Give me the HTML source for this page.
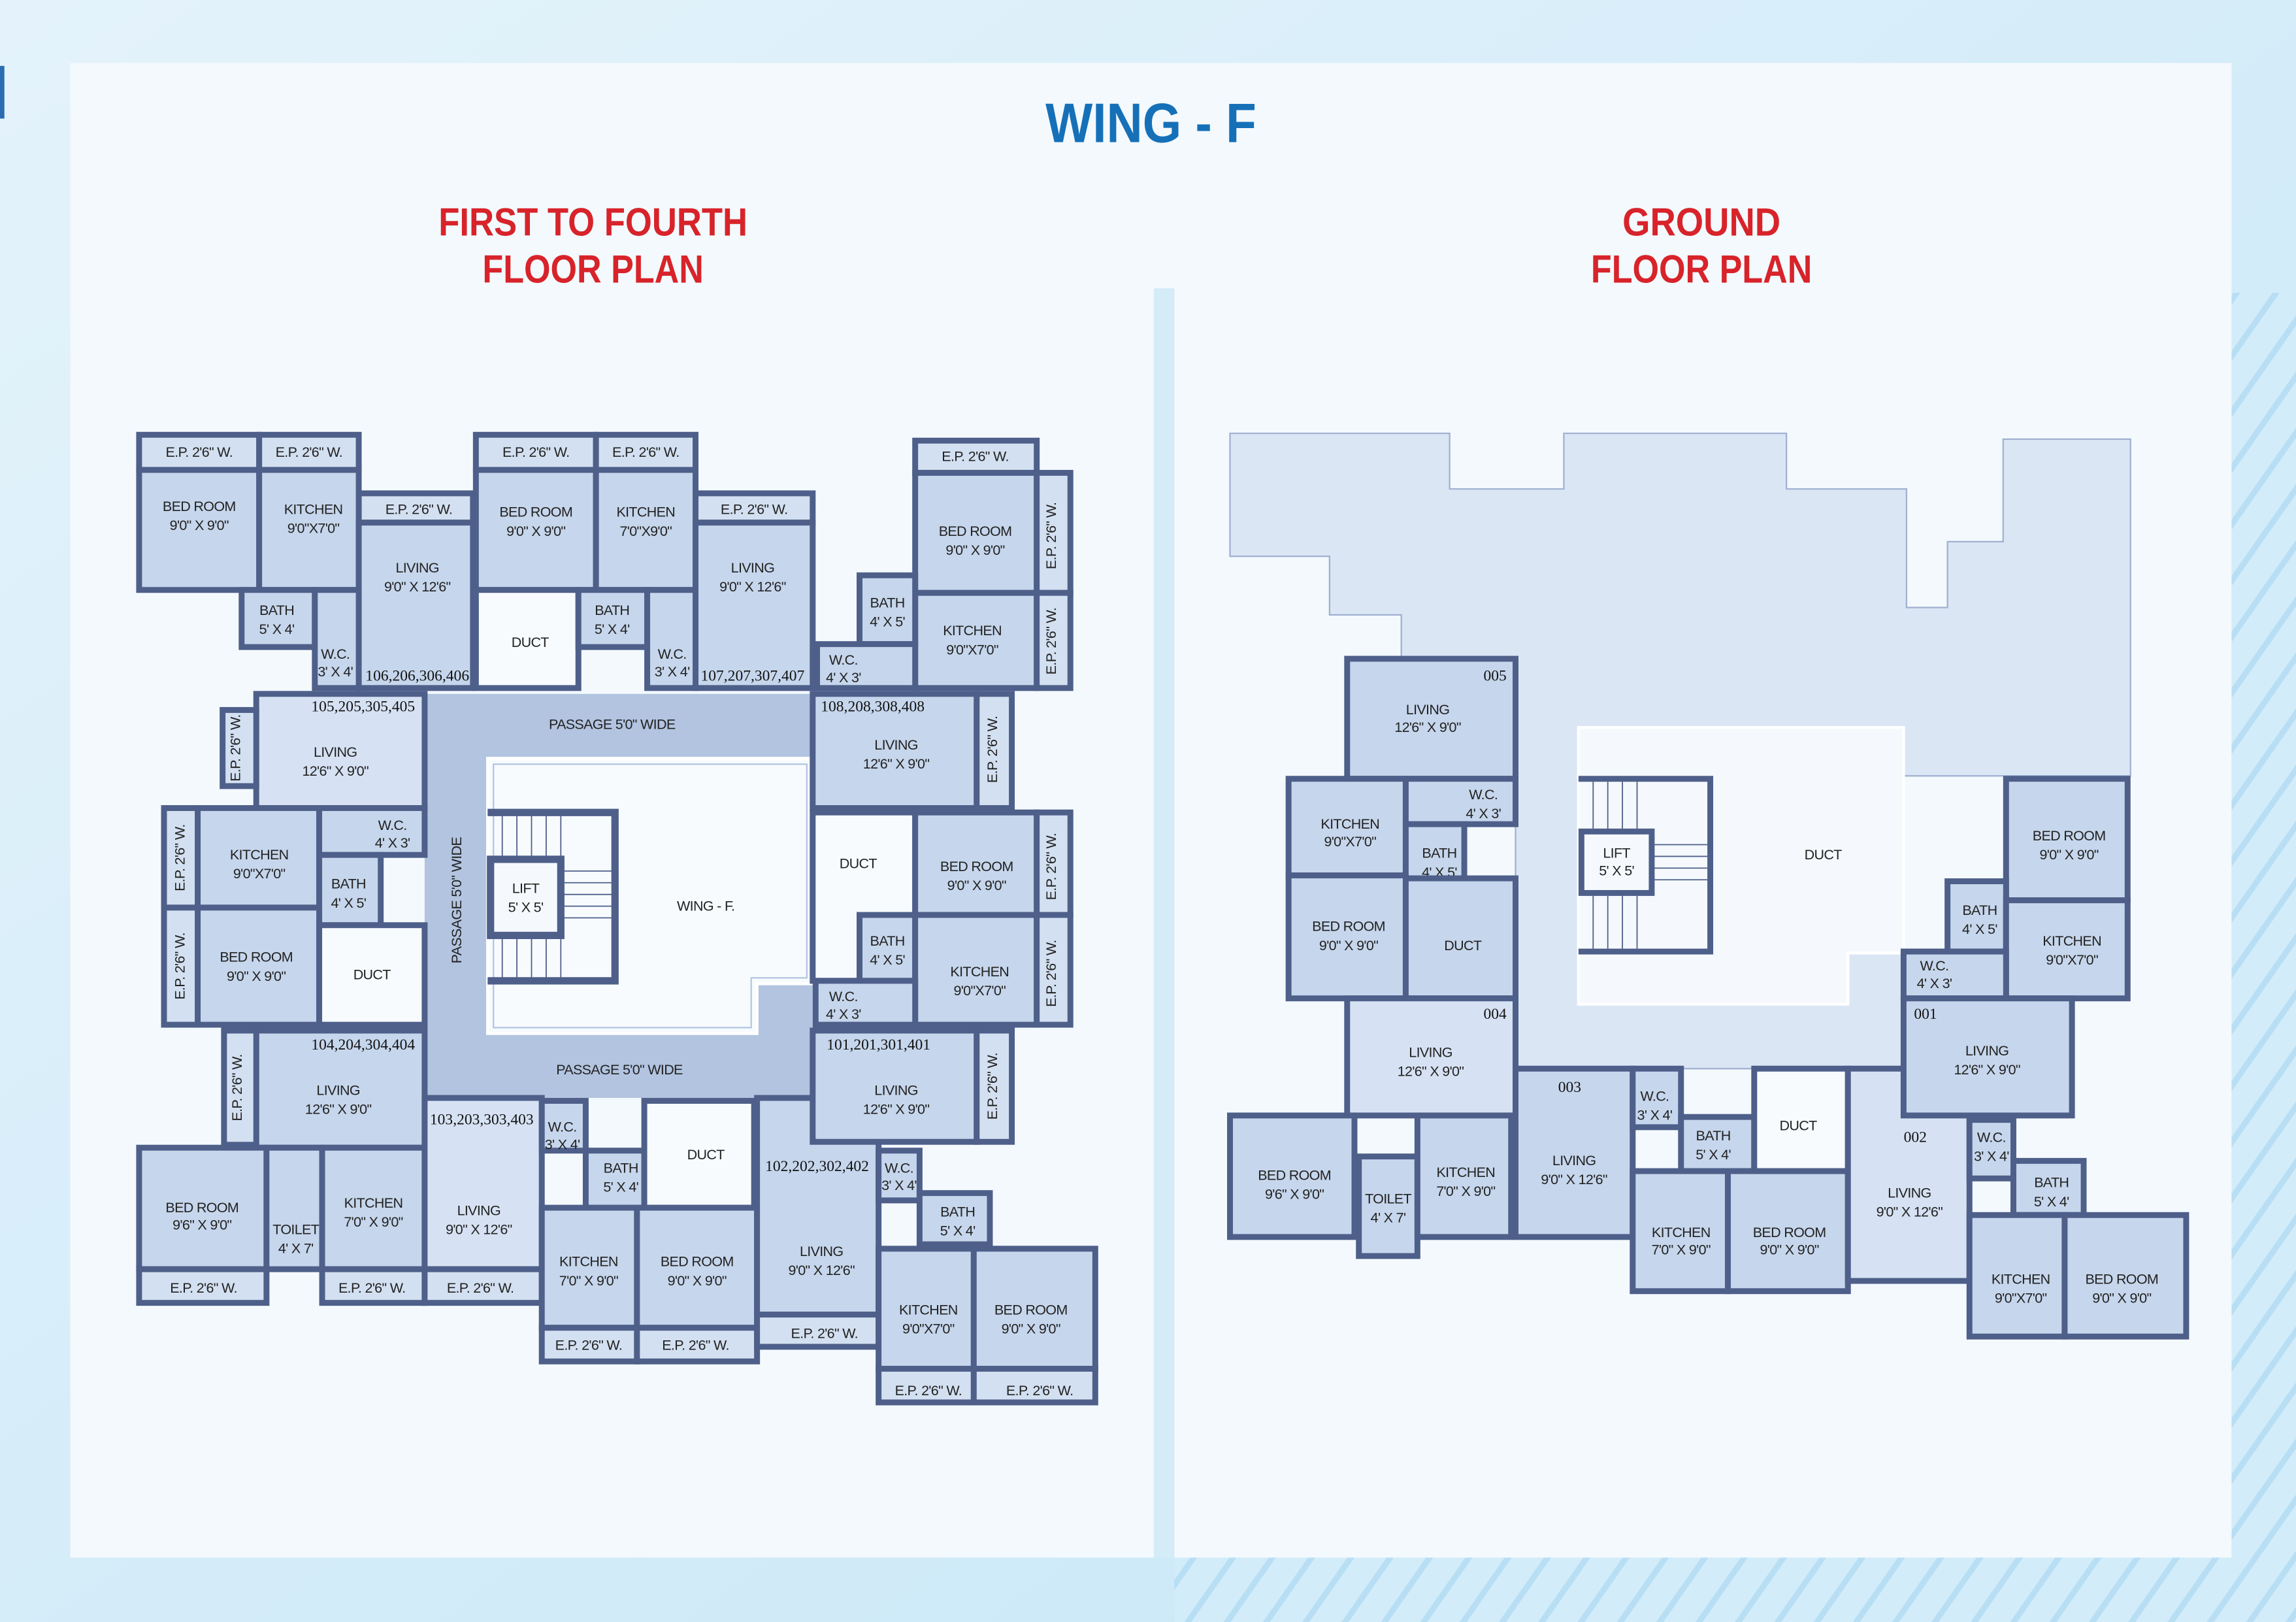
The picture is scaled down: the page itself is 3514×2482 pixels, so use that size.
<!DOCTYPE html>
<html><head><meta charset="utf-8"><style>
html,body{margin:0;padding:0;width:3514px;height:2482px;overflow:hidden;background:#d7ecf8}
svg{display:block}
.r{fill:#c6d6ec;stroke:#4e5f8a;stroke-width:4}
.e{fill:#d3e0f1;stroke:#4e5f8a;stroke-width:4}
.l{fill:#d6e2f3;stroke:#4e5f8a;stroke-width:4}
.w{fill:#f7fbfe;stroke:#4e5f8a;stroke-width:4}
text{font-family:"Liberation Sans Narrow","Liberation Sans",sans-serif;font-size:9.6px;letter-spacing:-0.3px;fill:#222;text-anchor:middle}
.n{font-family:"Liberation Serif",serif;font-size:10.5px;letter-spacing:0;fill:#111}
.h{font-family:"Liberation Sans",sans-serif;font-weight:bold;text-anchor:middle;letter-spacing:0}
</style></head><body>
<svg width="3514" height="2482" viewBox="0 0 1568 1108" preserveAspectRatio="none" xmlns="http://www.w3.org/2000/svg">
<defs>
<linearGradient id="bg" x1="0" y1="0" x2="1" y2="1"><stop offset="0" stop-color="#e4f3fb"/><stop offset="1" stop-color="#c6e6f7"/></linearGradient>
<pattern id="st" width="22" height="22" patternUnits="userSpaceOnUse" patternTransform="rotate(35)"><rect width="22" height="22" fill="#d2ecf9"/><rect width="4" height="22" fill="#b8def4"/></pattern>
</defs>
<rect width="1568" height="1108" fill="url(#bg)"/>
<rect x="1500" y="200" width="68" height="908" fill="url(#st)"/>
<rect x="802" y="1064" width="766" height="44" fill="url(#st)"/>
<rect x="0" y="45" width="3" height="36" fill="#2a6db0"/>
<rect x="48" y="43" width="1476" height="1021" fill="#f3f9fd"/>
<rect x="788" y="197" width="14" height="867" fill="#d4ebf8"/>
<text class="h" x="786" y="97" textLength="144" lengthAdjust="spacingAndGlyphs" style="font-size:38px;fill:#1570b8">WING - F</text>
<text class="h" x="405" y="161" textLength="211" lengthAdjust="spacingAndGlyphs" style="font-size:27px;fill:#d8232a">FIRST TO FOURTH</text>
<text class="h" x="405" y="193" textLength="151" lengthAdjust="spacingAndGlyphs" style="font-size:27px;fill:#d8232a">FLOOR PLAN</text>
<text class="h" x="1162" y="161" textLength="108" lengthAdjust="spacingAndGlyphs" style="font-size:27px;fill:#d8232a">GROUND</text>
<text class="h" x="1162" y="193" textLength="151" lengthAdjust="spacingAndGlyphs" style="font-size:27px;fill:#d8232a">FLOOR PLAN</text>

<!-- LEFT PLAN -->
<rect x="290" y="474" width="265" height="276" fill="#b2c4e0"/>
<polygon points="333,518 555,518 555,672 517,672 517,706 333,706" fill="#f7fbfe" stroke="#ffffff" stroke-width="2"/>
<polygon points="337,522 551,522 551,668 513,668 513,702 337,702" fill="none" stroke="#b2c4e0" stroke-width="1"/>
<text x="418" y="498">PASSAGE 5'0" WIDE</text>
<text x="423" y="734">PASSAGE 5'0" WIDE</text>
<text x="315" y="615" transform="rotate(-90 315 615)">PASSAGE 5'0" WIDE</text>
<text x="482" y="622">WING - F.</text>
<g stroke="#4e5f8a" fill="none">
<polyline points="333,555 420,555 420,670 333,670" stroke-width="5"/>
<rect x="335" y="587" width="48" height="52" stroke-width="5" fill="#f5f9fd"/>
<g stroke-width="0.8"><line x1="343" y1="556" x2="343" y2="586"/><line x1="353" y1="556" x2="353" y2="586"/><line x1="363" y1="556" x2="363" y2="586"/><line x1="373" y1="556" x2="373" y2="586"/><line x1="383" y1="556" x2="383" y2="586"/>
<line x1="343" y1="640" x2="343" y2="668"/><line x1="353" y1="640" x2="353" y2="668"/><line x1="363" y1="640" x2="363" y2="668"/><line x1="373" y1="640" x2="373" y2="668"/><line x1="383" y1="640" x2="383" y2="668"/>
<line x1="384" y1="595" x2="418" y2="595"/><line x1="384" y1="603" x2="418" y2="603"/><line x1="384" y1="611" x2="418" y2="611"/><line x1="384" y1="619" x2="418" y2="619"/><line x1="384" y1="627" x2="418" y2="627"/></g>
</g>
<text x="359" y="610">LIFT</text><text x="359" y="623">5' X 5'</text>

<!-- unit 106 -->
<rect class="e" x="95" y="297" width="82" height="24"/><text x="136" y="312">E.P. 2'6" W.</text>
<rect class="e" x="177" y="297" width="68" height="24"/><text x="211" y="312">E.P. 2'6" W.</text>
<rect class="e" x="245" y="337" width="78" height="20"/><text x="286" y="351">E.P. 2'6" W.</text>
<rect class="r" x="95" y="321" width="82" height="82"/><text x="136" y="349">BED ROOM</text><text x="136" y="362">9'0" X 9'0"</text>
<rect class="r" x="177" y="321" width="68" height="82"/><text x="214" y="351">KITCHEN</text><text x="214" y="364">9'0"X7'0"</text>
<rect class="r" x="245" y="357" width="78" height="113"/><text x="285" y="391">LIVING</text><text x="285" y="404">9'0" X 12'6"</text>
<rect class="r" x="165" y="403" width="50" height="39"/><text x="189" y="420">BATH</text><text x="189" y="433">5' X 4'</text>
<rect class="r" x="215" y="403" width="30" height="67"/><text x="229" y="450">W.C.</text><text x="229" y="462">3' X 4'</text>
<text class="n" x="285" y="465">106,206,306,406</text>
<!-- unit 107 -->
<rect class="e" x="325" y="297" width="82" height="24"/><text x="366" y="312">E.P. 2'6" W.</text>
<rect class="e" x="407" y="297" width="68" height="24"/><text x="441" y="312">E.P. 2'6" W.</text>
<rect class="e" x="475" y="337" width="80" height="20"/><text x="515" y="351">E.P. 2'6" W.</text>
<rect class="r" x="325" y="321" width="82" height="82"/><text x="366" y="353">BED ROOM</text><text x="366" y="366">9'0" X 9'0"</text>
<rect class="r" x="407" y="321" width="68" height="82"/><text x="441" y="353">KITCHEN</text><text x="441" y="366">7'0"X9'0"</text>
<rect class="r" x="475" y="357" width="80" height="113"/><text x="514" y="391">LIVING</text><text x="514" y="404">9'0" X 12'6"</text>
<rect class="w" x="325" y="403" width="70" height="67"/><text x="362" y="442">DUCT</text>
<rect class="r" x="395" y="403" width="47" height="39"/><text x="418" y="420">BATH</text><text x="418" y="433">5' X 4'</text>
<rect class="r" x="442" y="403" width="33" height="67"/><text x="459" y="450">W.C.</text><text x="459" y="462">3' X 4'</text>
<text class="n" x="514" y="465">107,207,307,407</text>
<!-- unit 108 -->
<rect class="e" x="625" y="301" width="83" height="22"/><text x="666" y="315">E.P. 2'6" W.</text>
<rect class="r" x="625" y="323" width="83" height="82"/><text x="666" y="366">BED ROOM</text><text x="666" y="379">9'0" X 9'0"</text>
<rect class="e" x="708" y="323" width="23" height="82"/><text x="721" y="366" transform="rotate(-90 721 366)">E.P. 2'6" W.</text>
<rect class="r" x="625" y="405" width="83" height="65"/><text x="664" y="434">KITCHEN</text><text x="664" y="447">9'0"X7'0"</text>
<rect class="e" x="708" y="405" width="23" height="65"/><text x="721" y="438" transform="rotate(-90 721 438)">E.P. 2'6" W.</text>
<rect class="r" x="587" y="393" width="38" height="47"/><text x="606" y="415">BATH</text><text x="606" y="428">4' X 5'</text>
<rect class="r" x="558" y="440" width="67" height="30"/><text x="576" y="454">W.C.</text><text x="576" y="466">4' X 3'</text>
<rect class="r" x="555" y="474" width="112" height="78"/><text x="612" y="512">LIVING</text><text x="612" y="525">12'6" X 9'0"</text>
<rect class="e" x="667" y="474" width="24" height="78"/><text x="681" y="512" transform="rotate(-90 681 512)">E.P. 2'6" W.</text>
<text class="n" x="596" y="486">108,208,308,408</text>
<!-- unit 105 -->
<rect class="l" x="175" y="474" width="115" height="78"/><text x="229" y="517">LIVING</text><text x="229" y="530">12'6" X 9'0"</text>
<rect class="e" x="152" y="485" width="23" height="52"/><text x="164" y="511" transform="rotate(-90 164 511)">E.P. 2'6" W.</text>
<text class="n" x="248" y="486">105,205,305,405</text>
<rect class="r" x="135" y="552" width="83" height="68"/><text x="177" y="587">KITCHEN</text><text x="177" y="600">9'0"X7'0"</text>
<rect class="e" x="112" y="552" width="23" height="68"/><text x="126" y="586" transform="rotate(-90 126 586)">E.P. 2'6" W.</text>
<rect class="r" x="218" y="552" width="72" height="32"/><text x="268" y="567">W.C.</text><text x="268" y="579">4' X 3'</text>
<rect class="r" x="218" y="584" width="42" height="48"/><text x="238" y="607">BATH</text><text x="238" y="620">4' X 5'</text>
<rect class="r" x="135" y="620" width="83" height="80"/><text x="175" y="657">BED ROOM</text><text x="175" y="670">9'0" X 9'0"</text>
<rect class="e" x="112" y="620" width="23" height="80"/><text x="126" y="660" transform="rotate(-90 126 660)">E.P. 2'6" W.</text>
<rect class="w" x="218" y="632" width="72" height="68"/><text x="254" y="669">DUCT</text>
<!-- unit 104 -->
<rect class="r" x="175" y="704" width="115" height="80"/><text x="231" y="748">LIVING</text><text x="231" y="761">12'6" X 9'0"</text>
<rect class="e" x="153" y="704" width="22" height="78"/><text x="165" y="743" transform="rotate(-90 165 743)">E.P. 2'6" W.</text>
<text class="n" x="248" y="717">104,204,304,404</text>
<rect class="r" x="95" y="784" width="87" height="83"/><text x="138" y="828">BED ROOM</text><text x="138" y="840">9'6" X 9'0"</text>
<rect class="r" x="182" y="784" width="38" height="83"/><text x="202" y="843">TOILET</text><text x="202" y="856">4' X 7'</text>
<rect class="r" x="220" y="784" width="70" height="83"/><text x="255" y="825">KITCHEN</text><text x="255" y="838">7'0" X 9'0"</text>
<rect class="e" x="95" y="867" width="87" height="23"/><text x="139" y="883">E.P. 2'6" W.</text>
<rect class="e" x="220" y="867" width="70" height="23"/><text x="254" y="883">E.P. 2'6" W.</text>
<!-- unit 103 -->
<rect class="l" x="290" y="750" width="80" height="117"/><text x="327" y="830">LIVING</text><text x="327" y="843">9'0" X 12'6"</text>
<rect class="e" x="290" y="867" width="80" height="23"/><text x="328" y="883">E.P. 2'6" W.</text>
<text class="n" x="329" y="768">103,203,303,403</text>
<rect class="r" x="370" y="752" width="30" height="34"/><text x="384" y="773">W.C.</text><text x="384" y="785">3' X 4'</text>
<rect class="r" x="400" y="786" width="40" height="39"/><text x="424" y="801">BATH</text><text x="424" y="814">5' X 4'</text>
<rect class="w" x="440" y="752" width="75" height="73"/><text x="482" y="792">DUCT</text>
<rect class="r" x="370" y="825" width="65" height="82"/><text x="402" y="865">KITCHEN</text><text x="402" y="878">7'0" X 9'0"</text>
<rect class="r" x="435" y="825" width="82" height="82"/><text x="476" y="865">BED ROOM</text><text x="476" y="878">9'0" X 9'0"</text>
<rect class="e" x="370" y="907" width="65" height="23"/><text x="402" y="922">E.P. 2'6" W.</text>
<rect class="e" x="435" y="907" width="82" height="23"/><text x="475" y="922">E.P. 2'6" W.</text>
<!-- unit 102 -->
<rect class="r" x="517" y="750" width="83" height="148"/><text x="561" y="858">LIVING</text><text x="561" y="871">9'0" X 12'6"</text>
<text class="n" x="558" y="800">102,202,302,402</text>
<rect class="e" x="517" y="898" width="83" height="22"/><text x="563" y="914">E.P. 2'6" W.</text>
<rect class="r" x="600" y="786" width="28" height="34"/><text x="614" y="801">W.C.</text><text x="614" y="813">3' X 4'</text>
<rect class="r" x="628" y="815" width="48" height="35"/><text x="654" y="831">BATH</text><text x="654" y="844">5' X 4'</text>
<rect class="r" x="600" y="853" width="65" height="82"/><text x="634" y="898">KITCHEN</text><text x="634" y="911">9'0"X7'0"</text>
<rect class="r" x="665" y="853" width="83" height="82"/><text x="704" y="898">BED ROOM</text><text x="704" y="911">9'0" X 9'0"</text>
<rect class="e" x="600" y="935" width="65" height="23"/><text x="634" y="953">E.P. 2'6" W.</text>
<rect class="e" x="665" y="935" width="83" height="23"/><text x="710" y="953">E.P. 2'6" W.</text>
<!-- unit 101 -->
<rect class="w" x="555" y="555" width="70" height="115"/><text x="586" y="593">DUCT</text>
<rect class="r" x="625" y="555" width="83" height="70"/><text x="667" y="595">BED ROOM</text><text x="667" y="608">9'0" X 9'0"</text>
<rect class="e" x="708" y="555" width="23" height="70"/><text x="721" y="592" transform="rotate(-90 721 592)">E.P. 2'6" W.</text>
<rect class="r" x="587" y="625" width="38" height="45"/><text x="606" y="646">BATH</text><text x="606" y="659">4' X 5'</text>
<rect class="r" x="625" y="625" width="83" height="75"/><text x="669" y="667">KITCHEN</text><text x="669" y="680">9'0"X7'0"</text>
<rect class="e" x="708" y="625" width="23" height="75"/><text x="721" y="665" transform="rotate(-90 721 665)">E.P. 2'6" W.</text>
<rect class="r" x="557" y="670" width="68" height="30"/><text x="576" y="684">W.C.</text><text x="576" y="696">4' X 3'</text>
<rect class="r" x="555" y="704" width="112" height="76"/><text x="612" y="748">LIVING</text><text x="612" y="761">12'6" X 9'0"</text>
<rect class="e" x="667" y="704" width="24" height="76"/><text x="681" y="742" transform="rotate(-90 681 742)">E.P. 2'6" W.</text>
<text class="n" x="600" y="717">101,201,301,401</text>

<!-- RIGHT PLAN -->
<polygon points="840,296 990,296 990,334 1068,334 1068,296 1220,296 1220,334 1302,334 1302,415 1330,415 1330,370 1368,370 1368,300 1455,300 1455,530 1300,530 1300,730 1035,730 1035,450 957,450 957,420 908,420 908,380 840,380" fill="#dbe6f5" stroke="#9fb0d0" stroke-width="1"/>
<polygon points="1078,497 1300,497 1300,651 1262,651 1262,686 1078,686" fill="#f5f9fd" stroke="#ffffff" stroke-width="2"/>
<text x="1245" y="587">DUCT</text>
<g stroke="#4e5f8a" fill="none">
<polyline points="1078,532 1168,532 1168,650 1078,650" stroke-width="4"/>
<rect x="1080" y="568" width="48" height="42" stroke-width="4" fill="#f5f9fd"/>
<g stroke-width="0.8"><line x1="1088" y1="534" x2="1088" y2="566"/><line x1="1098" y1="534" x2="1098" y2="566"/><line x1="1108" y1="534" x2="1108" y2="566"/><line x1="1118" y1="534" x2="1118" y2="566"/>
<line x1="1088" y1="612" x2="1088" y2="648"/><line x1="1098" y1="612" x2="1098" y2="648"/><line x1="1108" y1="612" x2="1108" y2="648"/><line x1="1118" y1="612" x2="1118" y2="648"/>
<line x1="1129" y1="577" x2="1166" y2="577"/><line x1="1129" y1="585" x2="1166" y2="585"/><line x1="1129" y1="593" x2="1166" y2="593"/><line x1="1129" y1="601" x2="1166" y2="601"/></g>
</g>
<text x="1104" y="586">LIFT</text><text x="1104" y="598">5' X 5'</text>
<!-- 005 -->
<rect class="r" x="920" y="450" width="115" height="82"/><text x="975" y="488">LIVING</text><text x="975" y="500">12'6" X 9'0"</text><text class="n" x="1021" y="465">005</text>
<rect class="r" x="880" y="532" width="80" height="66"/><text x="922" y="566">KITCHEN</text><text x="922" y="578">9'0"X7'0"</text>
<rect class="r" x="960" y="532" width="75" height="31"/><text x="1013" y="546">W.C.</text><text x="1013" y="559">4' X 3'</text>
<rect class="r" x="960" y="563" width="40" height="37"/><text x="983" y="586">BATH</text><text x="983" y="599">4' X 5'</text>
<rect class="r" x="880" y="598" width="80" height="84"/><text x="921" y="636">BED ROOM</text><text x="921" y="649">9'0" X 9'0"</text>
<rect class="r" x="960" y="600" width="75" height="82"/><text x="999" y="649">DUCT</text>
<!-- 004 -->
<rect class="l" x="920" y="682" width="115" height="80"/><text x="977" y="722">LIVING</text><text x="977" y="735">12'6" X 9'0"</text><text class="n" x="1021" y="696">004</text>
<rect class="r" x="840" y="762" width="85" height="83"/><text x="884" y="806">BED ROOM</text><text x="884" y="819">9'6" X 9'0"</text>
<rect class="r" x="928" y="790" width="40" height="68"/><text x="948" y="822">TOILET</text><text x="948" y="835">4' X 7'</text>
<rect class="r" x="968" y="762" width="64" height="83"/><text x="1001" y="804">KITCHEN</text><text x="1001" y="817">7'0" X 9'0"</text>
<!-- 003 -->
<rect class="r" x="1035" y="730" width="80" height="115"/><text x="1075" y="796">LIVING</text><text x="1075" y="809">9'0" X 12'6"</text><text class="n" x="1072" y="746">003</text>
<rect class="r" x="1115" y="730" width="33" height="40"/><text x="1130" y="752">W.C.</text><text x="1130" y="765">3' X 4'</text>
<rect class="r" x="1148" y="763" width="50" height="37"/><text x="1170" y="779">BATH</text><text x="1170" y="792">5' X 4'</text>
<rect class="w" x="1198" y="730" width="64" height="70"/><text x="1228" y="772">DUCT</text>
<rect class="r" x="1115" y="800" width="65" height="82"/><text x="1148" y="845">KITCHEN</text><text x="1148" y="857">7'0" X 9'0"</text>
<rect class="r" x="1180" y="800" width="82" height="82"/><text x="1222" y="845">BED ROOM</text><text x="1222" y="857">9'0" X 9'0"</text>
<!-- 002 -->
<rect class="l" x="1262" y="730" width="83" height="145"/><text x="1304" y="818">LIVING</text><text x="1304" y="831">9'0" X 12'6"</text><text class="n" x="1308" y="780">002</text>
<rect class="r" x="1345" y="765" width="30" height="40"/><text x="1360" y="780">W.C.</text><text x="1360" y="793">3' X 4'</text>
<rect class="r" x="1375" y="793" width="48" height="37"/><text x="1401" y="811">BATH</text><text x="1401" y="824">5' X 4'</text>
<rect class="r" x="1345" y="830" width="65" height="83"/><text x="1380" y="877">KITCHEN</text><text x="1380" y="890">9'0"X7'0"</text>
<rect class="r" x="1410" y="830" width="83" height="83"/><text x="1449" y="877">BED ROOM</text><text x="1449" y="890">9'0" X 9'0"</text>
<!-- 001 -->
<rect class="r" x="1370" y="532" width="83" height="83"/><text x="1413" y="574">BED ROOM</text><text x="1413" y="587">9'0" X 9'0"</text>
<rect class="r" x="1330" y="602" width="40" height="48"/><text x="1352" y="625">BATH</text><text x="1352" y="638">4' X 5'</text>
<rect class="r" x="1370" y="615" width="83" height="67"/><text x="1415" y="646">KITCHEN</text><text x="1415" y="659">9'0"X7'0"</text>
<rect class="r" x="1300" y="650" width="70" height="32"/><text x="1321" y="663">W.C.</text><text x="1321" y="675">4' X 3'</text>
<rect class="r" x="1300" y="682" width="115" height="80"/><text x="1357" y="721">LIVING</text><text x="1357" y="734">12'6" X 9'0"</text><text class="n" x="1315" y="696">001</text>
</svg>
</body></html>
